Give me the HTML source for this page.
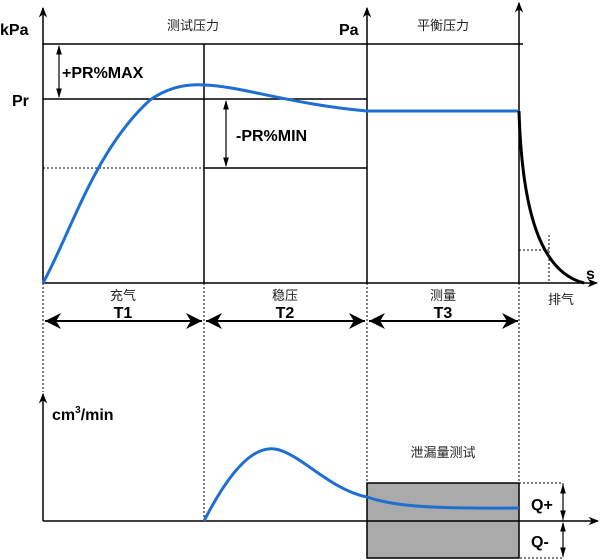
<!DOCTYPE html>
<html><head><meta charset="utf-8"><style>
body{margin:0;background:#fff}
svg{display:block}
.b{font-family:"Liberation Sans","Noto Sans CJK SC",sans-serif;font-weight:bold;fill:#000}
.c{font-family:"Liberation Sans","Noto Sans CJK SC",sans-serif;font-size:13px;fill:#222}
</style></head><body>
<svg width="600" height="560" viewBox="0 0 600 560" xmlns="http://www.w3.org/2000/svg">
<defs>
<marker id="a" viewBox="0 0 10 10" refX="9" refY="5" markerWidth="7" markerHeight="7" orient="auto-start-reverse"><path d="M0,1 L10,5 L0,9 L3,5z" fill="#000"/></marker>
<marker id="t" viewBox="0 0 10 10" refX="10" refY="5" markerWidth="8" markerHeight="8" orient="auto-start-reverse"><path d="M0,0 L10,5 L0,10 L3,5z" fill="#000"/></marker>
<marker id="s" viewBox="0 0 10 10" refX="9" refY="5" markerWidth="8" markerHeight="8" orient="auto-start-reverse"><path d="M0,2 L10,5 L0,8z" fill="#000"/></marker>
</defs>
<g stroke="#000" stroke-width="1.5" fill="none">
<line x1="43" y1="283" x2="43" y2="8" marker-end="url(#a)"/>
<line x1="367" y1="283" x2="367" y2="8" marker-end="url(#a)"/>
<line x1="519" y1="283" x2="519" y2="3" marker-end="url(#a)"/>
<line x1="43" y1="283" x2="597" y2="283" marker-end="url(#a)"/>
<line x1="43" y1="44" x2="523" y2="44"/>
<line x1="43" y1="99" x2="367" y2="99"/>
<line x1="204" y1="44" x2="204" y2="283"/>
<line x1="204" y1="168" x2="367" y2="168"/>
<line x1="59" y1="46" x2="59" y2="97" marker-start="url(#s)" marker-end="url(#s)" stroke-width="1.2"/>
<line x1="226" y1="101" x2="226" y2="166" marker-start="url(#s)" marker-end="url(#s)" stroke-width="1.2"/>
<line x1="45" y1="321" x2="202" y2="321" marker-start="url(#t)" marker-end="url(#t)" stroke-width="2"/>
<line x1="206" y1="321" x2="365" y2="321" marker-start="url(#t)" marker-end="url(#t)" stroke-width="2"/>
<line x1="369" y1="321" x2="518" y2="321" marker-start="url(#t)" marker-end="url(#t)" stroke-width="2"/>
<line x1="43" y1="521" x2="43" y2="394" marker-end="url(#a)"/>
<line x1="43" y1="521" x2="598" y2="521" marker-end="url(#a)"/>
</g>
<g stroke="#000" stroke-width="1" stroke-dasharray="2,2" fill="none">
<line x1="43" y1="168" x2="204" y2="168"/>
<line x1="519" y1="250" x2="549" y2="250"/>
<line x1="549" y1="235" x2="549" y2="283"/>
<line x1="43" y1="283" x2="43" y2="392"/>
<line x1="204" y1="283" x2="204" y2="521"/>
<line x1="367" y1="283" x2="367" y2="483"/>
<line x1="519" y1="283" x2="519" y2="483"/>
<path d="M519,483 H563 V558 H519"/>
</g>
<rect x="367" y="483" width="152" height="75" fill="#aaa" stroke="#000" stroke-width="1.5"/>
<line x1="367" y1="521" x2="519" y2="521" stroke="#000" stroke-width="1.5"/>
<g stroke="#000" stroke-width="1.2">
<line x1="563" y1="485" x2="563" y2="519" marker-start="url(#s)" marker-end="url(#s)"/>
<line x1="563" y1="523" x2="563" y2="556" marker-start="url(#s)" marker-end="url(#s)"/>
</g>
<path d="M43,283 C72,230 95,150 150,100 C170,86 190,84 204,85 C240,86 290,104 367,111 L519,111" stroke="#1f6fd0" stroke-width="3" fill="none"/>
<path d="M519,111 C522,210 540,272 584,283" stroke="#000" stroke-width="3" fill="none"/>
<path d="M204,521 C225,480 250,445 275,449 C300,453 330,490 367,497 C390,505 420,509 519,508" stroke="#1f6fd0" stroke-width="3" fill="none"/>
<text class="b" x="0" y="35" font-size="16">kPa</text>
<text class="b" x="12" y="106" font-size="16">Pr</text>
<text class="b" x="339" y="35" font-size="16">Pa</text>
<text class="b" x="586" y="279" font-size="16">s</text>
<text class="b" x="62" y="78" font-size="16">+PR%MAX</text>
<text class="b" x="236" y="141" font-size="16">-PR%MIN</text>
<text class="c" x="193" y="30" text-anchor="middle">测试压力</text>
<text class="c" x="443" y="30" text-anchor="middle">平衡压力</text>
<text class="c" x="123" y="300" text-anchor="middle">充气</text>
<text class="c" x="285" y="300" text-anchor="middle">稳压</text>
<text class="c" x="443" y="300" text-anchor="middle">测量</text>
<text class="c" x="561" y="304" text-anchor="middle">排气</text>
<text class="b" x="123" y="318" font-size="16" text-anchor="middle">T1</text>
<text class="b" x="285" y="318" font-size="16" text-anchor="middle">T2</text>
<text class="b" x="443" y="318" font-size="16" text-anchor="middle">T3</text>
<text class="b" x="52" y="420" font-size="16">cm<tspan font-size="10" dy="-7">3</tspan><tspan dy="7">/min</tspan></text>
<text class="c" x="443" y="457" text-anchor="middle">泄漏量测试</text>
<text class="b" x="531" y="510" font-size="16">Q+</text>
<text class="b" x="531" y="547" font-size="16">Q-</text>
</svg>
</body></html>
